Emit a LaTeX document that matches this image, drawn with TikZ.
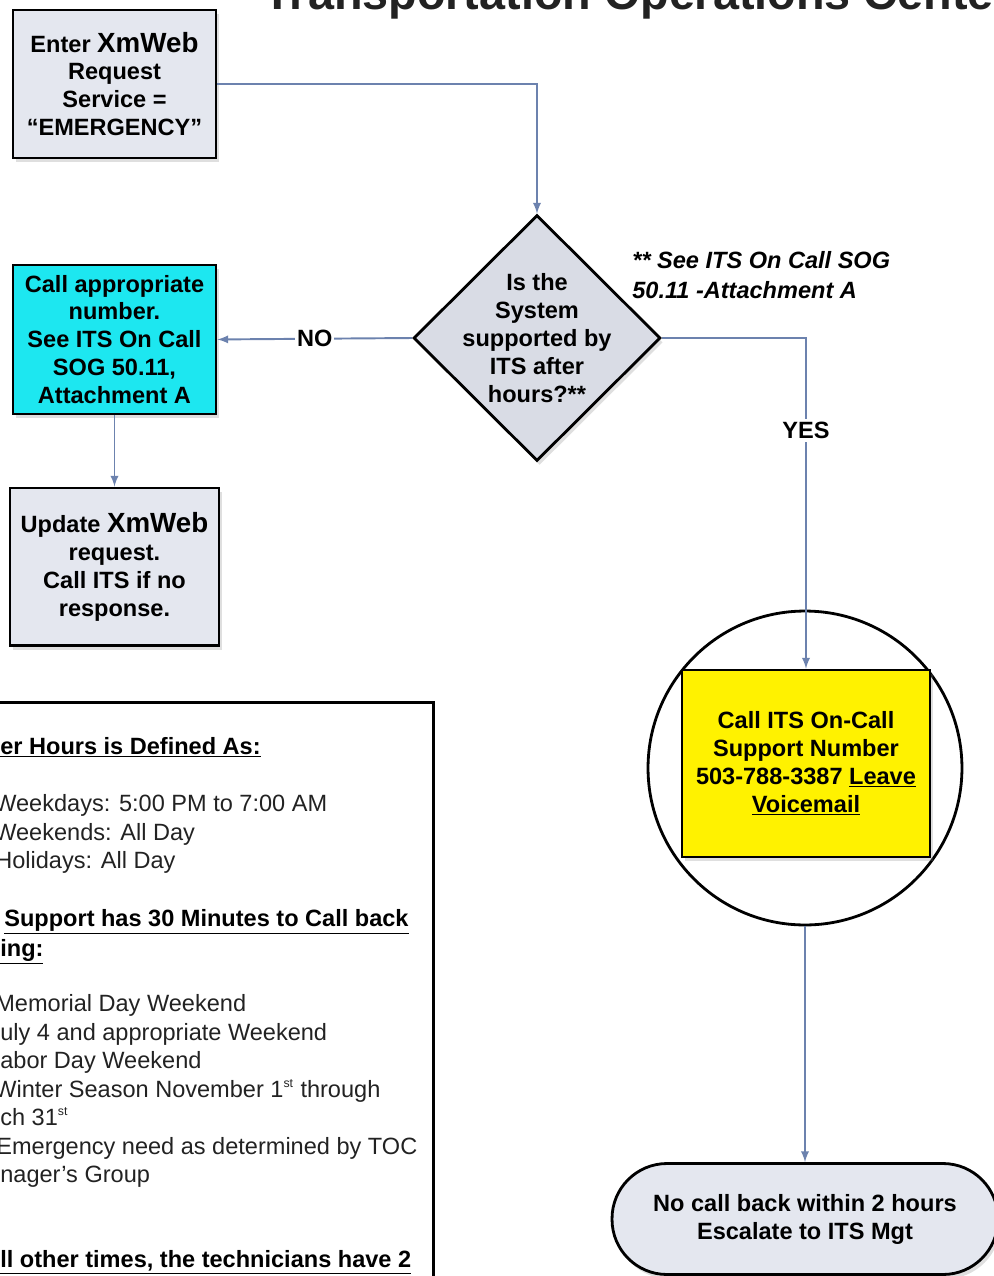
\documentclass[tikz,border=0pt]{standalone}
\usepackage{fontspec}
\setmainfont{Liberation Sans}
\usetikzlibrary{positioning,shapes.geometric,shadows}
\definecolor{boxfill}{HTML}{E4E7EF}
\definecolor{diafill}{HTML}{D9DCE5}
\definecolor{cyanfill}{HTML}{1DE7F0}
\definecolor{linkblue}{HTML}{6C82AE}
\definecolor{inkgray}{HTML}{222222}

\begin{document}
\begin{tikzpicture}[x=0.02cm, y=-0.02cm, >=latex,
    every node/.style={font=\fontsize{13.4}{15.9}\selectfont\bfseries},
    procbox/.style={draw, rectangle, align=center, line width=1.6pt, fill=boxfill,
      drop shadow={shadow xshift=1.5pt, shadow yshift=-2.5pt, opacity=0.25}},
    link/.style={draw=linkblue, line width=1.1pt, ->},
    ruletext/.style={anchor=base west, inner sep=0pt, text=inkgray,
      font=\fontsize{13.4}{16}\selectfont},
    rulehead/.style={anchor=base west, inner sep=0pt,
      font=\fontsize{13.4}{16}\selectfont\bfseries}]
    \useasboundingbox (0,0) rectangle (994,1276);
    \clip (0,0) rectangle (994,1276);

    % Nodes
    \node [anchor=base east, inner sep=0pt, text=inkgray, font=\fontsize{26.6}{30}\selectfont\bfseries] (title) at (994,9) {Transportation Operations Cente};
    \node [procbox, minimum width=4.06cm, minimum height=2.96cm] (enter) at (114.5,84) {Enter {\fontsize{15.8}{15.9}\selectfont XmWeb}\\Request\\Service =\\“EMERGENCY”};
    \node [draw, diamond, line width=1.6pt, fill=diafill, inner sep=0pt, minimum width=4.94cm, minimum height=4.92cm,
      drop shadow={shadow xshift=1.5pt, shadow yshift=-2.5pt, opacity=0.25},
      label={[align=center]center:Is the\\System\\supported by\\ITS after\\hours?**}] (decide) at (537,338) {};
    \node [procbox, fill=cyanfill, minimum width=4.06cm, minimum height=2.98cm, below of=enter, node distance=5.11cm] (callnum) {Call appropriate\\number.\\See ITS On Call\\SOG 50.11,\\Attachment A};
    \node [procbox, minimum width=4.18cm, minimum height=3.16cm, below of=callnum, node distance=4.55cm] (update) {Update {\fontsize{15.8}{15.9}\selectfont XmWeb}\\request.\\Call ITS if no\\response.};
    \node [anchor=north west, inner sep=0pt, align=left, font=\fontsize{13.4}{17}\selectfont\bfseries\itshape] (note) at (632,251) {** See ITS On Call SOG\\50.11 -Attachment A};
    \node [draw, circle, line width=1.6pt, fill=white, minimum size=6.28cm] (ring) at (805,768) {};
    \node [procbox, fill=yellow, minimum width=4.96cm, minimum height=3.74cm] (oncall) at (806,763.5) {Call ITS On-Call\\Support Number\\503-788-3387 \underline{Leave}\\\underline{Voicemail}};
    \node [procbox, rounded corners=1.1cm, minimum width=7.72cm, minimum height=2.22cm] (escalate) at (805,1219) {No call back within 2 hours\\Escalate to ITS Mgt};

    % After hours rules
    \node [draw, line width=1.6pt, anchor=north east, inner sep=0pt, minimum width=9.4cm, minimum height=12cm] (rules) at (434.5,701) {};
    \node [rulehead] (hourshead) at (0,754) {\underline{er Hours is Defined As:}};
    \node [ruletext] (weekdays) at (-6,811) {Weekdays: 5:00 PM to 7:00 AM};
    \node [ruletext] (weekends) at (-6,840) {Weekends: All Day};
    \node [ruletext] (holidays) at (-5,868) {Holidays: All Day};
    \node [rulehead] (callhead) at (4,926) {\underline{Support has 30 Minutes to Call back}};
    \node [rulehead] (callhead2) at (0,956) {\underline{ing:}};
    \node [ruletext] (memorial) at (-5,1011) {Memorial Day Weekend};
    \node [ruletext] (july) at (0,1040) {uly 4 and appropriate Weekend};
    \node [ruletext] (labor) at (0,1068) {abor Day Weekend};
    \node [ruletext] (winter) at (-6,1097) {Winter Season November 1\textsuperscript{\scriptsize st} through};
    \node [ruletext] (winter2) at (0,1125) {ch 31\textsuperscript{\scriptsize st}};
    \node [ruletext] (emergency) at (-4,1154) {Emergency need as determined by TOC};
    \node [ruletext] (emergency2) at (0,1182) {nager's Group};
    \node [rulehead] (otherhead) at (0,1267) {\underline{ll other times, the technicians have 2}};

    % Arrows
    \draw [link] (enter.east) -| (decide.north);
    \draw [link] (decide.west) -- node [fill=white, inner sep=1pt] {NO} (callnum.east);
    \draw [link] (callnum.south) -- (update.north);
    \draw [link] (decide.east) -| node [pos=0.64, fill=white, inner sep=2pt] {YES} (oncall.north);
    \draw [link] (ring.south) -- (escalate.north);
\end{tikzpicture}
\end{document}
